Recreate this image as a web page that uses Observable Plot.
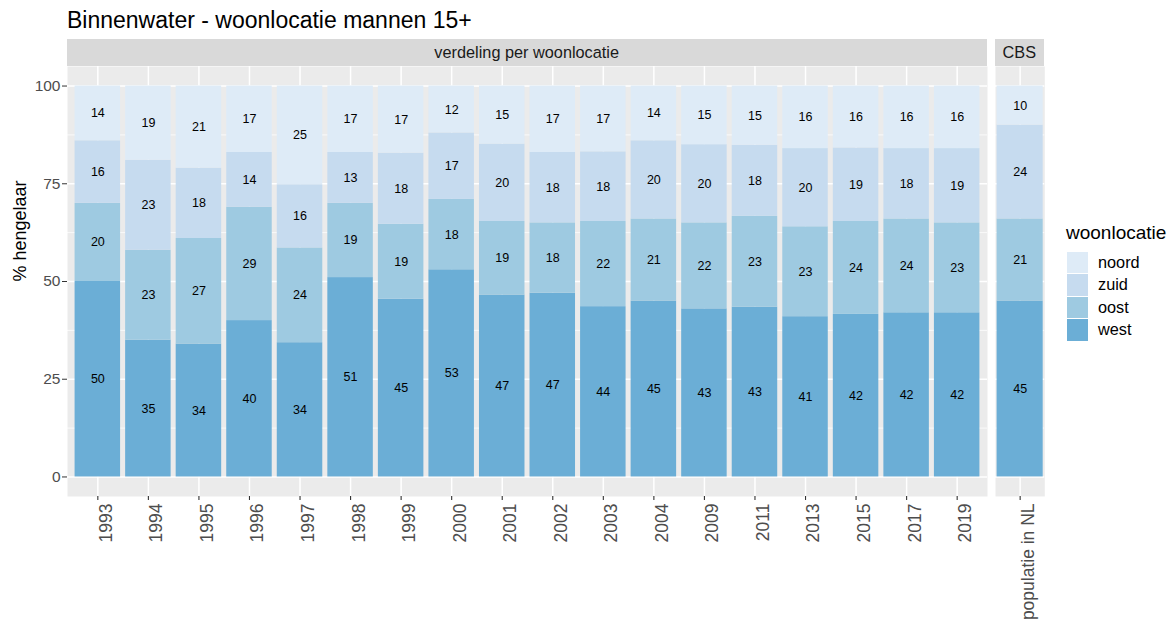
<!DOCTYPE html>
<html><head><meta charset="utf-8">
<script src="https://cdn.jsdelivr.net/npm/d3@7"></script>
<script src="https://cdn.jsdelivr.net/npm/@observablehq/plot@0.6"></script>
<style>
body{margin:0;background:#fff;}
#root{position:relative;width:1174px;height:628px;overflow:hidden;font-family:"Liberation Sans",Arial,sans-serif;}
.abs{position:absolute;}
.strip{position:absolute;background:#D9D9D9;color:#1A1A1A;font-size:16.3px;display:flex;align-items:center;justify-content:center;}
</style></head><body><div id="root"></div>
<script>
// ---- data ----
const years = ["1993","1994","1995","1996","1997","1998","1999","2000","2001","2002","2003","2004","2009","2011","2013","2015","2017","2019"];
const locations = ["west","oost","zuid","noord"];          // stacking order (bottom -> top)
const legendOrder = ["noord","zuid","oost","west"];        // legend order (top -> bottom)
const colors = ["#6BAED6","#9ECAE1","#C6DBEF","#DEEBF7"];  // west, oost, zuid, noord
const west  = [50,35,34,40,34,51,45,53,47,47,44,45,43,43,41,42,42,42];
const oost  = [20,23,27,29,24,19,19,18,19,18,22,21,22,23,23,24,24,23];
const zuid  = [16,23,18,14,16,13,18,17,20,18,18,20,20,18,20,19,18,19];
const noord = [14,19,21,17,25,17,17,12,15,17,17,14,15,15,16,16,16,16];
const cbsCategory = ["populatie in NL"];
const cbsWest = [45], cbsOost = [21], cbsZuid = [24], cbsNoord = [10];
const majorTicks = [0,25,50,75,100];
const minorTicks = [12.5,37.5,62.5,87.5];
const title = "Binnenwater - woonlocatie mannen 15+";
const stripLabels = ["verdeling per woonlocatie","CBS"];
const yTitle = "% hengelaar";
const legendTitle = "woonlocatie";

function rows(cats, series) {
  const out = [];
  cats.forEach((c, i) => {
    const total = locations.reduce((s, l) => s + series[l][i], 0);
    locations.forEach(l => out.push({cat: c, loc: l, value: series[l][i], pct: series[l][i] / total * 100}));
  });
  return out;
}
const mainData = rows(years, {west, oost, zuid, noord});
const cbsData = rows(cbsCategory, {west: cbsWest, oost: cbsOost, zuid: cbsZuid, noord: cbsNoord});

const FONT = '"Liberation Sans", Arial, sans-serif';
const PANEL_H = 430, SVG_TOP = 66, SVG_H = 628 - 66;

function panel(data, cats, {width, marginLeft, paddingInner, paddingOuter, yAxis}) {
  const marks = [
    Plot.frame({fill: "#EBEBEB", stroke: "none"}),
    Plot.ruleY(minorTicks, {stroke: "#fff", strokeWidth: 0.75}),
    Plot.ruleY(majorTicks, {stroke: "#fff", strokeWidth: 1.5}),
    Plot.ruleX(cats, {x: d => d, stroke: "#fff", strokeWidth: 1.5}),
    Plot.barY(data, {x: "cat", y: "pct", fill: "loc"}),
    Plot.text(data, Plot.stackY({x: "cat", y: "pct", z: "loc", text: d => String(d.value), fontSize: 12.5, fill: "#000"})),
    Plot.axisX({tickSize: 4, tickFormat: () => "", stroke: "#333", strokeWidth: 1.1}),
    Plot.text(cats, {x: d => d, text: d => d, frameAnchor: "bottom", rotate: -90, textAnchor: "end", lineAnchor: "top", dy: 7, dx: 1.5, fontSize: 17.5, fill: "#4D4D4D"})
  ];
  if (yAxis) {
    marks.push(
      Plot.axisY({ticks: majorTicks, tickSize: 5, tickPadding: 2, fontSize: 15.5, color: "#4D4D4D", stroke: "#333"}),
      Plot.text([yTitle], {text: d => d, frameAnchor: "left", rotate: -90, dx: -42, lineAnchor: "bottom", fontSize: 18, fill: "#000"})
    );
  }
  return Plot.plot({
    width, height: SVG_H,
    marginLeft, marginRight: 0, marginTop: 0, marginBottom: SVG_H - PANEL_H,
    style: {fontFamily: FONT, background: "transparent", overflow: "visible"},
    x: {domain: cats, paddingInner, paddingOuter, round: false, label: null, axis: null},
    y: {domain: [-5, 105], label: null, ...(yAxis ? {} : {axis: null})},
    color: {domain: locations, range: colors},
    marks
  });
}

const root = document.getElementById("root");

const t = document.createElement("div");
t.className = "abs";
Object.assign(t.style, {left: "67px", top: "8.5px", fontSize: "23px", lineHeight: "23px", color: "#000", whiteSpace: "nowrap"});
t.textContent = title;
root.appendChild(t);

const strips = [{left: 66.7, width: 920, label: stripLabels[0]}, {left: 994.7, width: 49.3, label: stripLabels[1]}];
strips.forEach(s => {
  const d = document.createElement("div");
  d.className = "strip";
  Object.assign(d.style, {left: s.left + "px", width: s.width + "px", top: "38.7px", height: "27.3px"});
  d.textContent = s.label;
  root.appendChild(d);
});

const p1 = panel(mainData, years, {width: 987, marginLeft: 67, paddingInner: 0.1, paddingOuter: 0.15, yAxis: true});
p1.style.position = "absolute"; p1.style.left = "0px"; p1.style.top = SVG_TOP + "px";
root.appendChild(p1);

const p2 = panel(cbsData, cbsCategory, {width: 49.3, marginLeft: 0, paddingInner: 0, paddingOuter: 0.035, yAxis: false});
p2.style.position = "absolute"; p2.style.left = "994.7px"; p2.style.top = SVG_TOP + "px";
root.appendChild(p2);

// legend
const lt = document.createElement("div");
lt.className = "abs";
Object.assign(lt.style, {left: "1066px", top: "223px", fontSize: "19px", lineHeight: "19px", color: "#000"});
lt.textContent = legendTitle;
root.appendChild(lt);
const colorOf = Object.fromEntries(locations.map((l, i) => [l, colors[i]]));
legendOrder.forEach((l, i) => {
  const top = 251.5 + i * 22.6;
  const k = document.createElement("div");
  k.className = "abs";
  Object.assign(k.style, {left: "1067px", top: top + "px", width: "21px", height: "21.5px", background: colorOf[l]});
  root.appendChild(k);
  const lab = document.createElement("div");
  lab.className = "abs";
  Object.assign(lab.style, {left: "1098px", top: top + "px", height: "21.5px", lineHeight: "21.5px", fontSize: "16.3px", color: "#000"});
  lab.textContent = l;
  root.appendChild(lab);
});
</script></body></html>
